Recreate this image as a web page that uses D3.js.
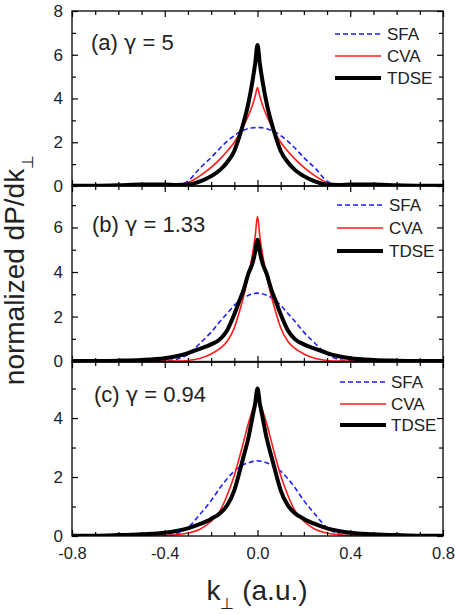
<!DOCTYPE html>
<html><head><meta charset="utf-8">
<script src="https://cdn.jsdelivr.net/npm/d3@7"></script>
<style>
html,body{margin:0;padding:0;background:#fff;}
svg{display:block;font-family:Arial,"Liberation Sans",Helvetica,sans-serif;}
</style></head><body>
<svg id="chart" width="455" height="614"></svg>
<script>
// ---- data ----
const kValues = [-0.8,-0.7,-0.6,-0.5,-0.4,-0.35,-0.3,-0.25,-0.2,-0.16,-0.13,-0.1,-0.08,-0.06,-0.04,-0.02,-0.01,0,0.01,0.02,0.04,0.06,0.08,0.1,0.13,0.16,0.2,0.25,0.3,0.35,0.4,0.5,0.6,0.7,0.8];

const sfaA  = [0,0,0,0,0.01,0.03,0.22,0.8,1.3,1.75,2.05,2.3,2.45,2.55,2.62,2.66,2.67,2.68,2.67,2.66,2.62,2.55,2.45,2.3,2.05,1.75,1.3,0.8,0.22,0.03,0.01,0,0,0,0];
const cvaA  = [0,0,0,0,0.01,0.03,0.15,0.45,0.85,1.25,1.6,2.0,2.35,2.75,3.2,3.75,4.1,4.5,4.1,3.75,3.2,2.75,2.35,2.0,1.6,1.25,0.85,0.45,0.15,0.03,0.01,0,0,0,0];
const tdseA = [0.01,0.01,0.03,0.07,0.07,0.05,0.07,0.2,0.45,0.75,1.1,1.6,2.2,2.9,3.75,4.9,5.6,6.45,5.6,4.9,3.75,2.9,2.2,1.6,1.1,0.75,0.45,0.2,0.07,0.05,0.07,0.07,0.03,0.01,0.01];

const sfaB  = [0,0,0,0,0.01,0.08,0.3,0.78,1.3,1.8,2.15,2.5,2.7,2.85,2.95,3.02,3.04,3.05,3.04,3.02,2.95,2.85,2.7,2.5,2.15,1.8,1.3,0.78,0.3,0.08,0.01,0,0,0,0];
const cvaB  = [0,0,0,0,0,0,0.03,0.12,0.32,0.58,0.9,1.5,2.15,2.9,3.8,4.9,5.6,6.5,5.6,4.9,3.8,2.9,2.15,1.5,0.9,0.58,0.32,0.12,0.03,0,0,0,0,0,0];
const tdseB = [0.01,0.01,0.02,0.05,0.13,0.22,0.36,0.55,0.75,1.0,1.4,2.1,2.65,3.2,3.9,4.45,4.9,5.45,4.9,4.45,3.9,3.2,2.65,2.1,1.4,1.0,0.75,0.55,0.36,0.22,0.13,0.05,0.02,0.01,0.01];

const sfaC  = [0,0,0,0,0.01,0.07,0.28,0.72,1.2,1.65,1.95,2.2,2.33,2.42,2.48,2.53,2.54,2.55,2.54,2.53,2.48,2.42,2.33,2.2,1.95,1.65,1.2,0.72,0.28,0.07,0.01,0,0,0,0];
const cvaC  = [0,0,0,0,0.01,0.04,0.1,0.22,0.5,0.88,1.4,2.05,2.6,3.2,3.8,4.3,4.55,4.85,4.55,4.3,3.8,3.2,2.6,2.05,1.4,0.88,0.5,0.22,0.1,0.04,0.01,0,0,0,0];
const tdseC = [0.01,0.01,0.03,0.06,0.11,0.17,0.26,0.4,0.58,0.78,1.05,1.55,2.1,2.7,3.3,4.1,4.5,5.0,4.5,4.1,3.3,2.7,2.1,1.55,1.05,0.78,0.58,0.4,0.26,0.17,0.11,0.06,0.03,0.01,0.01];

const seriesNames = ["SFA","CVA","TDSE"];
const panelPrefixes = ["(a) ","(b) ","(c) "];
const gammaValues = ["5","1.33","0.94"];
const xTicks = [-0.8,-0.4,0.0,0.4,0.8];
const yTicksA = [0,2,4,6,8];
const yTicksB = [0,2,4,6];
const yTicksC = [0,2,4];

// ---- layout ----
const svg = d3.select("#chart");
const L = 72, R = 443;
const x = d3.scaleLinear().domain([-0.8,0.8]).range([L,R]);
const styles = {
  SFA:  {color:"#1f1fff", width:1.6, dash:"5,3"},
  CVA:  {color:"#ff1a1a", width:1.6, dash:null},
  TDSE: {color:"#000000", width:4,   dash:null}
};
const panels = [
  {top:11,  bottom:186, domain:[0,8],       ticks:yTicksA, minor:[1,3,5,7], data:[sfaA,cvaA,tdseA],
   labelPos:[91,50], legend:{x0:335,x1:381,tx:387,ys:[34,56,78]}},
  {top:186, bottom:362, domain:[-0.04,7.86], ticks:yTicksB, minor:[1,3,5,7], data:[sfaB,cvaB,tdseB],
   labelPos:[92,232], legend:{x0:337,x1:383,tx:389,ys:[205,228,251]}, zeroLine:true},
  {top:362, bottom:536, domain:[0,5.9],      ticks:yTicksC, minor:[1,3,5], data:[sfaC,cvaC,tdseC],
   labelPos:[94,402], legend:{x0:340,x1:386,tx:391,ys:[382,404,425]}}
];
const minorX = d3.range(-7,8).map(i=>i/10).filter(v=>Math.abs(v*10)%4!==0);
const textCol = "#222";
const MAJ = 6, MIN = 4;

panels.forEach((p,pi)=>{
  const y = d3.scaleLinear().domain(p.domain).range([p.bottom,p.top]);
  const g = svg.append("g");
  const clipId = "clip"+pi;
  svg.append("clipPath").attr("id",clipId).append("rect")
    .attr("x",L).attr("y",p.top).attr("width",R-L).attr("height",p.bottom-p.top);

  if(p.zeroLine){
    g.append("line").attr("x1",L).attr("x2",R).attr("y1",y(0)).attr("y2",y(0))
      .attr("stroke","#888").attr("stroke-width",1);
  }

  const line = d3.line().x((d,i)=>x(kValues[i])).y(d=>y(d)).curve(d3.curveMonotoneX);
  const cg = g.append("g").attr("clip-path",`url(#${clipId})`);
  seriesNames.forEach((name,si)=>{
    const st = styles[name];
    cg.append("path").datum(p.data[si]).attr("d",line)
      .attr("fill","none").attr("stroke",st.color).attr("stroke-width",st.width)
      .attr("stroke-dasharray",st.dash).attr("stroke-linejoin","round");
  });

  // frame
  g.append("rect").attr("x",L).attr("y",p.top).attr("width",R-L).attr("height",p.bottom-p.top)
    .attr("fill","none").attr("stroke","#000").attr("stroke-width",1.3);

  // y axes (inward ticks both sides)
  const yAxL = d3.axisRight(y).tickValues(p.ticks).tickSize(MAJ).tickFormat("");
  const yAxLm = d3.axisRight(y).tickValues(p.minor).tickSize(MIN).tickFormat("");
  const yAxR = d3.axisLeft(y).tickValues(p.ticks).tickSize(MAJ).tickFormat("");
  const yAxRm = d3.axisLeft(y).tickValues(p.minor).tickSize(MIN).tickFormat("");
  [[yAxL,L],[yAxLm,L],[yAxR,R],[yAxRm,R]].forEach(([ax,xp])=>{
    const a = g.append("g").attr("transform",`translate(${xp},0)`).call(ax);
    a.select(".domain").remove();
    a.selectAll("line").attr("stroke","#000").attr("stroke-width",1.2);
  });
  // y labels
  const yLab = d3.axisLeft(y).tickValues(p.ticks).tickSize(0).tickPadding(9).tickFormat(d=>String(d));
  const yl = g.append("g").attr("transform",`translate(${L},0)`).call(yLab);
  yl.select(".domain").remove();
  yl.selectAll("text").attr("font-size",17).attr("fill",textCol).attr("font-family","Arial, 'Liberation Sans', sans-serif");

  // x axes (inward both top and bottom)
  const xAxB = d3.axisTop(x).tickValues(xTicks).tickSize(MAJ).tickFormat("");
  const xAxBm = d3.axisTop(x).tickValues(minorX).tickSize(MIN).tickFormat("");
  const xAxT = d3.axisBottom(x).tickValues(xTicks).tickSize(MAJ).tickFormat("");
  const xAxTm = d3.axisBottom(x).tickValues(minorX).tickSize(MIN).tickFormat("");
  [[xAxB,p.bottom],[xAxBm,p.bottom],[xAxT,p.top],[xAxTm,p.top]].forEach(([ax,yp])=>{
    const a = g.append("g").attr("transform",`translate(0,${yp})`).call(ax);
    a.select(".domain").remove();
    a.selectAll("line").attr("stroke","#000").attr("stroke-width",1.2);
  });

  // panel label
  const lt = g.append("text").attr("x",p.labelPos[0]).attr("y",p.labelPos[1])
    .attr("font-size",22).attr("fill",textCol);
  lt.append("tspan").text(panelPrefixes[pi]);
  lt.append("tspan").attr("font-family","'DejaVu Sans', sans-serif").attr("font-size",21).text("γ");
  lt.append("tspan").text(" = " + gammaValues[pi]);

  // legend
  seriesNames.forEach((name,si)=>{
    const st = styles[name]; const ly = p.legend.ys[si];
    g.append("line").attr("x1",p.legend.x0).attr("x2",p.legend.x1).attr("y1",ly).attr("y2",ly)
      .attr("stroke",st.color).attr("stroke-width",st.width).attr("stroke-dasharray",st.dash);
    g.append("text").attr("x",p.legend.tx).attr("y",ly+6).attr("font-size",17)
      .attr("fill",textCol).text(name);
  });
});

// bottom x tick labels
const xLab = d3.axisBottom(x).tickValues(xTicks).tickSize(0).tickPadding(11)
  .tickFormat(d=>d.toFixed(1));
const xl = svg.append("g").attr("transform",`translate(0,536)`).call(xLab);
xl.select(".domain").remove();
xl.selectAll("text").attr("font-size",16.5).attr("fill",textCol).attr("font-family","Arial, 'Liberation Sans', sans-serif");

// axis titles
const xt = svg.append("text").attr("x",257).attr("y",600).attr("text-anchor","middle")
  .attr("font-size",28).attr("fill",textCol);
xt.append("tspan").text("k");
xt.append("tspan").attr("font-size",16).attr("dy",9).text("⊥");
xt.append("tspan").attr("dy",-9).text(" (a.u.)");

const yt = svg.append("text").attr("transform","translate(24,270) rotate(-90)").attr("text-anchor","middle")
  .attr("font-size",28).attr("fill",textCol);
yt.append("tspan").text("normalized dP/dk");
yt.append("tspan").attr("font-size",16).attr("dy",9).text("⊥");
</script>
</body></html>
